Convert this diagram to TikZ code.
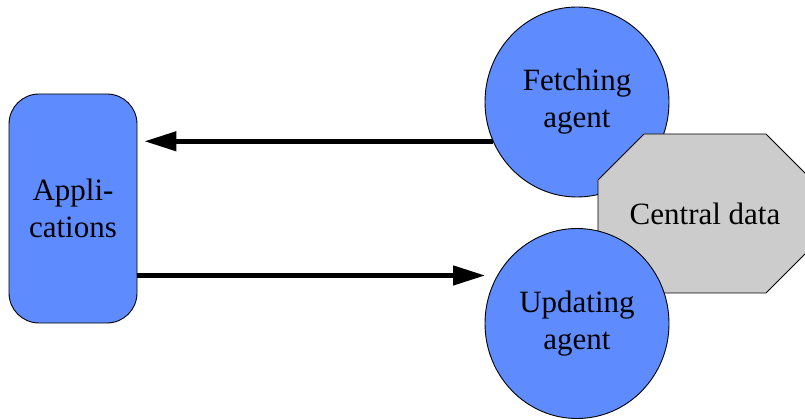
\documentclass[tikz,border=0pt]{standalone}
\usepackage{fontspec}
\setmainfont{Liberation Serif}
\usetikzlibrary{shapes.geometric,arrows.meta}
\definecolor{agentblue}{RGB}{94,140,255}
\definecolor{datagray}{RGB}{204,204,204}
\tikzset{
  agent/.style={ellipse,draw=black,line width=0.9pt,fill=agentblue,minimum width=184pt,minimum height=190pt,inner sep=0pt,align=center,font=\fontsize{31}{37}\selectfont},
  appbox/.style={rectangle,rounded corners=30pt,draw=black,line width=0.9pt,fill=agentblue,minimum width=128pt,minimum height=229pt,inner sep=0pt,align=center,font=\fontsize{31}{37}\selectfont},
  datashape/.style={draw=black,line width=0.9pt,fill=datagray},
  datatext/.style={inner sep=0pt,font=\fontsize{31}{37}\selectfont},
  flow/.style={line width=4.5pt,-{Triangle[length=32pt,width=19pt]}}
}
\begin{document}
\begin{tikzpicture}[x=1pt,y=-1pt]
\useasboundingbox (0,0) rectangle (805,419);
\node[appbox] (apps) at (73,208.5) {Appli-\\cations};
\node[agent] (fetch) at (577,102) {Fetching\\agent};
\draw[datashape] (598,180) -- (644,134) -- (766,134) -- (812,180) -- (812,247) -- (766,293) -- (644,293) -- (598,247) -- cycle;
\node[datatext] (data) at (705,213.5) {Central data};
\node[agent] (upd) at (577,323.5) {Updating\\agent};
\draw[flow,shorten >=7pt] (fetch.205) -- (fetch.205 -| apps.east);
\draw[flow,shorten >=12pt] (upd.149 -| apps.east) -- (upd.149);
\end{tikzpicture}
\end{document}
